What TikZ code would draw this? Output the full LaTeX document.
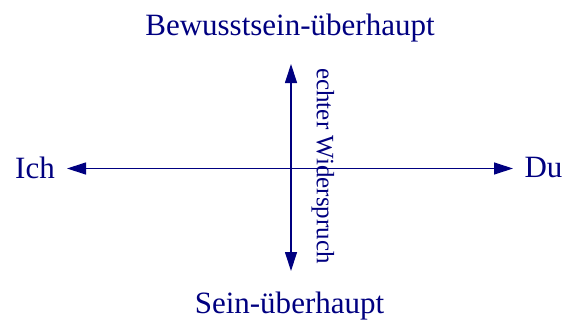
\documentclass[tikz,border=0pt]{standalone}
\usepackage{fontspec}
\setmainfont{Liberation Serif}
\usetikzlibrary{arrows.meta}
\definecolor{tiefblau}{RGB}{0,0,128}
\tikzset{
  gross/.style={text=tiefblau,inner sep=0pt,anchor=base,font=\fontsize{31bp}{37bp}\selectfont},
  klein/.style={text=tiefblau,inner sep=0pt,font=\fontsize{25bp}{30bp}\selectfont},
  pfeil/.style={draw=tiefblau,line width=1.2bp,{Triangle[length=19bp,width=12bp]}-{Triangle[length=19bp,width=12bp]}}
}
\begin{document}
\begin{tikzpicture}[x=1bp,y=1bp]
\useasboundingbox (0,0) rectangle (564,321);

\node[gross] (oben) at (290,286) {Bewusstsein-überhaupt};
\node[gross] (unten) at (289.5,8) {Sein-überhaupt};
\node[gross] (ich) at (35,143) {Ich};
\node[gross] (du) at (543.5,144) {Du};

\coordinate (links) at (67,152.5);
\coordinate (rechts) at (513,152.5);
\coordinate (hoch) at (291,257);
\coordinate (tief) at (291,50);

\draw[pfeil] (links) -- (rechts);
\draw[pfeil] (tief) -- (hoch);

\node[klein,rotate=-90] (widerspruch) at (323,155) {echter Widerspruch};
\end{tikzpicture}
\end{document}
